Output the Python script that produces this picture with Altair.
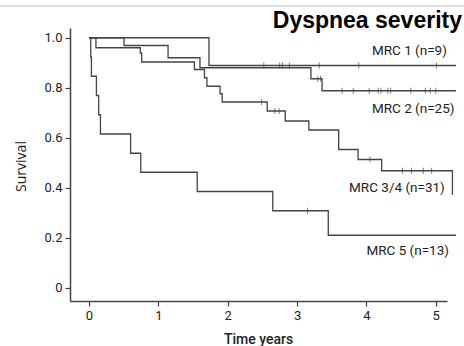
import altair as alt
import pandas as pd

# ---- data (time in years, survival proportion) ----
mrc1_t = [0, 1.73, 5.29]
mrc1_s = [1.0, 0.889, 0.889]
mrc1_ct = [2.52, 2.75, 2.79, 2.89, 3.32, 3.89, 5.01]

mrc2_t = [0, 0.505, 1.14, 1.60, 3.20, 3.36, 5.29]
mrc2_s = [1.0, 0.969, 0.92, 0.88, 0.836, 0.788, 0.788]
mrc2_ct = [3.30, 3.34, 3.65, 3.81, 4.04, 4.17, 4.21, 4.31, 4.35, 4.64, 4.85, 4.92, 5.00]
mrc2_cs = [0.836, 0.836, 0.788, 0.788, 0.788, 0.788, 0.788, 0.788, 0.788, 0.788, 0.788, 0.788, 0.788]

mrc34_t = [0, 0.10, 0.74, 0.76, 1.52, 1.665, 1.70, 1.89, 1.92, 2.57, 2.83, 3.17, 3.60, 3.88, 4.22, 5.24]
mrc34_s = [1.0, 0.96, 0.939, 0.903, 0.873, 0.84, 0.806, 0.776, 0.743, 0.707, 0.667, 0.631, 0.553, 0.513, 0.468, 0.372]
mrc34_ct = [2.49, 2.68, 2.74, 4.05, 4.52, 4.65, 4.82, 4.94]
mrc34_cs = [0.743, 0.707, 0.707, 0.513, 0.468, 0.468, 0.468, 0.468]

mrc5_t = [0, 0.025, 0.035, 0.107, 0.14, 0.165, 0.60, 0.746, 1.56, 2.65, 3.45, 5.29]
mrc5_s = [1.0, 0.923, 0.846, 0.769, 0.692, 0.615, 0.538, 0.462, 0.385, 0.308, 0.21, 0.21]
mrc5_ct = [3.15]
mrc5_cs = [0.308]

groups = ["MRC 1 (n=9)", "MRC 2 (n=25)", "MRC 3/4 (n=31)", "MRC 5 (n=13)"]
label_t = [5.16, 5.27, 5.13, 5.19]
label_s = [0.948, 0.716, 0.40, 0.146]

title_text = ["Dyspnea severity"]

x_ticks = [0, 1, 2, 3, 4, 5]
y_ticks = [0, 0.2, 0.4, 0.6, 0.8, 1.0]

# ---- tables ----
curves = pd.concat([
    pd.DataFrame({"t": mrc1_t, "s": mrc1_s, "g": groups[0]}),
    pd.DataFrame({"t": mrc2_t, "s": mrc2_s, "g": groups[1]}),
    pd.DataFrame({"t": mrc34_t, "s": mrc34_s, "g": groups[2]}),
    pd.DataFrame({"t": mrc5_t, "s": mrc5_s, "g": groups[3]}),
])
cens = pd.concat([
    pd.DataFrame({"t": mrc1_ct, "s": [mrc1_s[-1]] * len(mrc1_ct)}),
    pd.DataFrame({"t": mrc2_ct, "s": mrc2_cs}),
    pd.DataFrame({"t": mrc34_ct, "s": mrc34_cs}),
    pd.DataFrame({"t": mrc5_ct, "s": mrc5_cs}),
])
labels = pd.DataFrame({"t": label_t, "s": label_s, "g": groups})
title_df = pd.DataFrame({"title": title_text})

LINE = "#444444"
xs = alt.Scale(domain=[-0.274, 5.162], nice=False, zero=False)
ys = alt.Scale(domain=[-0.053, 1.039], nice=False, zero=False)

x_enc = alt.X("t:Q", scale=xs, axis=alt.Axis(
    values=x_ticks, title="Time years", format="d",
    titleFont="Roboto", titleFontSize=14, titleFontWeight=500, titleColor="#222",
    titleX=188, titleY=42, titleBaseline="alphabetic"))
y_enc = alt.Y("s:Q", scale=ys, axis=alt.Axis(
    values=y_ticks, title="Survival",
    labelExpr="datum.value == 0 ? '0' : format(datum.value, '.1f')",
    titleFont="Open Sans", titleFontSize=14, titleFontWeight="normal", titleColor="#222",
    titleAngle=-90, titleX=-49, titleY=138, titleAlign="center", titleBaseline="middle"))

lines = alt.Chart(curves).mark_line(
    interpolate="step-after", color=LINE, strokeWidth=1.3, clip=False
).encode(x=x_enc, y=y_enc, detail="g:N")

ticks = alt.Chart(cens).mark_tick(
    orient="vertical", size=6, thickness=1, color=LINE, clip=False
).encode(x=alt.X("t:Q", scale=xs), y=alt.Y("s:Q", scale=ys))

text = alt.Chart(labels).mark_text(
    align="right", baseline="middle", font="Roboto", fontSize=13.5, color="#222"
).encode(x=alt.X("t:Q", scale=xs), y=alt.Y("s:Q", scale=ys), text="g:N")

title_mark = alt.Chart(title_df).mark_text(
    align="right", baseline="alphabetic", font="Liberation Sans", fontSize=23,
    fontWeight="bold", color="black", clip=False
).encode(x=alt.value(392), y=alt.value(-0.5), text="title:N")

topline = alt.Chart(pd.DataFrame({"a": [0]})).mark_rule(
    color="#dddddd", strokeWidth=2, clip=False
).encode(x=alt.value(-70), x2=alt.value(394), y=alt.value(-22))

chart = alt.layer(topline, lines, ticks, text, title_mark).properties(
    width=377, height=273,
    padding={"left": 70, "top": 28, "right": 17, "bottom": 45},
    autosize=alt.AutoSizeParams(type="none"),
).configure_view(stroke=None).configure_axis(
    grid=False, domainColor=LINE, domainWidth=1.5, tickColor=LINE, tickWidth=1.2,
    tickSize=5, labelFont="Roboto", labelFontSize=13, labelColor="#222",
    labelPadding=3
)

chart.save("out.html", embed_options={"renderer": "svg", "actions": False})
